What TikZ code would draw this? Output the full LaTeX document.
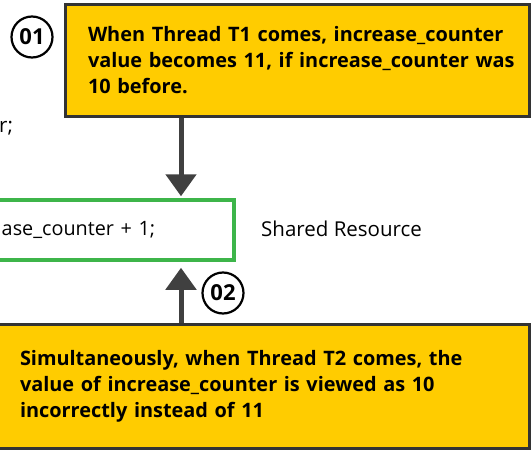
\documentclass[tikz,border=0pt]{standalone}
\usepackage{fontspec}
\setmainfont{Open Sans}
\usetikzlibrary{arrows.meta}
\definecolor{boxyellow}{HTML}{FFCC00}
\definecolor{boxborder}{HTML}{333333}
\definecolor{arrowgray}{HTML}{404040}
\definecolor{resgreen}{HTML}{3DB54A}
\begin{document}
\begin{tikzpicture}[x=1pt,y=1pt,
  note/.style={draw=boxborder, fill=boxyellow, line width=3pt, align=left,
    font=\bfseries\fontsize{19.9}{26}\selectfont, inner xsep=0pt, inner ysep=0pt},
  resbox/.style={draw=resgreen, line width=3.5pt, minimum width=252pt, minimum height=60pt,
    align=left, text width=212pt, inner xsep=20pt, inner ysep=0pt,
    font=\fontsize{19.8}{22}\selectfont},
  plain/.style={font=\fontsize{20.5}{22}\selectfont, inner sep=0pt},
  stepnum/.style={circle, draw=black, line width=2.2pt, minimum size=41pt, inner sep=0pt,
    font=\bfseries\fontsize{22}{22}\selectfont},
  flow/.style={draw=arrowgray, line width=5pt, -{Triangle[width=30pt,length=22pt]}}
]
\useasboundingbox (0,0) rectangle (531,-450);
% top note
\node[note, minimum width=464pt, minimum height=112pt, text width=418pt] (t1) at (297,-60.5)
  {\mbox{When Thread T1 comes, increase\_counter}\\\mbox{value becomes 11, if increase\_counter was}\\\mbox{10 before.}};
% bottom note
\node[note, minimum width=549pt, minimum height=124pt, text width=469pt] (t2) at (254.5,-386)
  {\mbox{Simultaneously, when Thread T2 comes, the}\\\mbox{value of increase\_counter is viewed as 10}\\\mbox{incorrectly instead of 11}};
% shared resource
\node[resbox, anchor=west] (res) at (-20,-230) {\mbox{ase\_counter + 1;}};
\node[plain, anchor=west] (reslabel) at (261,-229) {Shared Resource};
\node[plain, anchor=west] (code0) at (-1,-128) {r;};
% step numbers
\node[stepnum] (n1) at (32,-37) {01};
\node[stepnum] (n2) at (223,-293) {02};
% arrows
\draw[flow, shorten >=2pt] (t1.south -| 181,0) -- (res.north -| 181,0);
\draw[flow, shorten >=6pt] (t2.north -| 181,0) -- (res.south -| 181,0);
\end{tikzpicture}
\end{document}
